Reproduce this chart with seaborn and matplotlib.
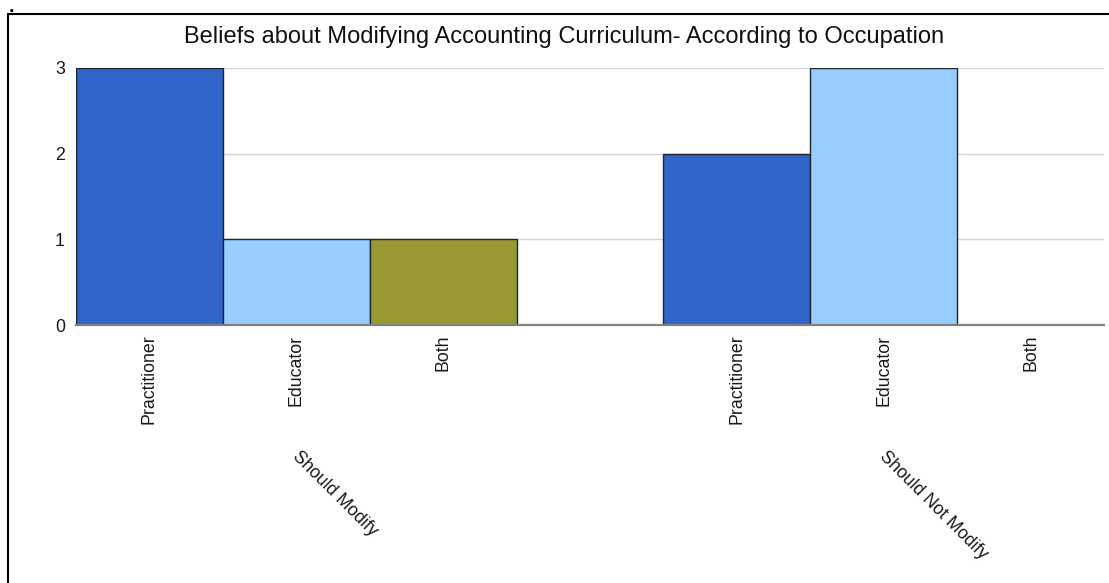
import matplotlib
matplotlib.use("Agg")
import matplotlib.pyplot as plt
import matplotlib.transforms as mtransforms
from matplotlib.lines import Line2D
import seaborn as sns
import pandas as pd

# Survey counts, grouped by belief and split by occupation
groups = ["Should Modify", "Should Not Modify"]
occupations = ["Practitioner", "Educator", "Both"]
should_modify = [3, 1, 1]
should_not_modify = [2, 3, 0]
palette = {"Practitioner": "#3165C9", "Educator": "#99CCFF", "Both": "#999933"}

title = "Beliefs about Modifying Accounting Curriculum- According to Occupation"

# One slot per bar, with an empty slot separating the two groups
rows = []
slots = []
for g, vals in zip(groups, [should_modify, should_not_modify]):
    if slots:
        slots.append("gap")
    for occ, v in zip(occupations, vals):
        key = f"{g}|{occ}"
        slots.append(key)
        rows.append({"slot": key, "count": v, "occupation": occ})
df = pd.DataFrame(rows)

sns.set_theme(style="white")
plt.rcParams["font.family"] = ["Liberation Sans", "DejaVu Sans"]

fig = plt.figure(figsize=(11.09, 5.83), dpi=100)
ax = fig.add_axes([76 / 1109, (583 - 325) / 583, 1028 / 1109, 257 / 583])

sns.barplot(data=df, x="slot", y="count", hue="occupation", order=slots,
            hue_order=occupations, palette=palette, dodge=False, width=1.0,
            edgecolor="#1c2430", linewidth=1.0, saturation=1, legend=False,
            ax=ax, zorder=3)

ax.set_xlim(-0.5, len(slots) - 0.5)
ax.set_ylim(0, 3)
ax.set_yticks([0, 1, 2, 3])
ax.set_yticklabels(["0", "1", "2", "3"], fontsize=12.8, color="#1a1a1a")
for y in [1, 2, 3]:
    ax.axhline(y, color="#d4d4d4", linewidth=1.0, zorder=1)

ticks = [i for i, s in enumerate(slots) if s != "gap"]
ax.set_xticks(ticks)
ax.set_xticklabels([slots[i].split("|")[1] for i in ticks], rotation=90,
                   fontsize=12.8, color="#1a1a1a", va="top")
ax.tick_params(axis="x", length=0, pad=7)
ax.tick_params(axis="y", length=0, pad=8)
ax.set_xlabel("")
ax.set_ylabel("")

for side in ["top", "right", "left"]:
    ax.spines[side].set_visible(False)
ax.spines["bottom"].set_color("#808080")
ax.spines["bottom"].set_linewidth(1.6)
ax.spines["bottom"].set_zorder(4)

# Group labels, placed diagonally under each group's centre
trans = mtransforms.blended_transform_factory(ax.transData, fig.transFigure)
for gi, g in enumerate(groups):
    centre = gi * 4 + 1
    ax.text(centre + 0.03, (583 - 448) / 583, g, transform=trans, rotation=-45,
            rotation_mode="anchor", ha="left", va="top", fontsize=12.8,
            color="#1a1a1a")

fig.text(564 / 1109, (583 - 37) / 583, title, ha="center", va="center",
         fontsize=17, color="#111111")

# Frame lines along the top and left of the figure
fig.add_artist(Line2D([8 / 1109, 1.0], [(583 - 14) / 583] * 2,
                      transform=fig.transFigure, color="black", linewidth=1.5))
fig.add_artist(Line2D([8 / 1109] * 2, [0, (583 - 14) / 583],
                      transform=fig.transFigure, color="black", linewidth=1.5))
fig.text(9 / 1109, (583 - 7) / 583, ".", ha="left", va="center", fontsize=14,
         fontweight="bold", color="black")

fig.savefig("out.png", dpi=100)
